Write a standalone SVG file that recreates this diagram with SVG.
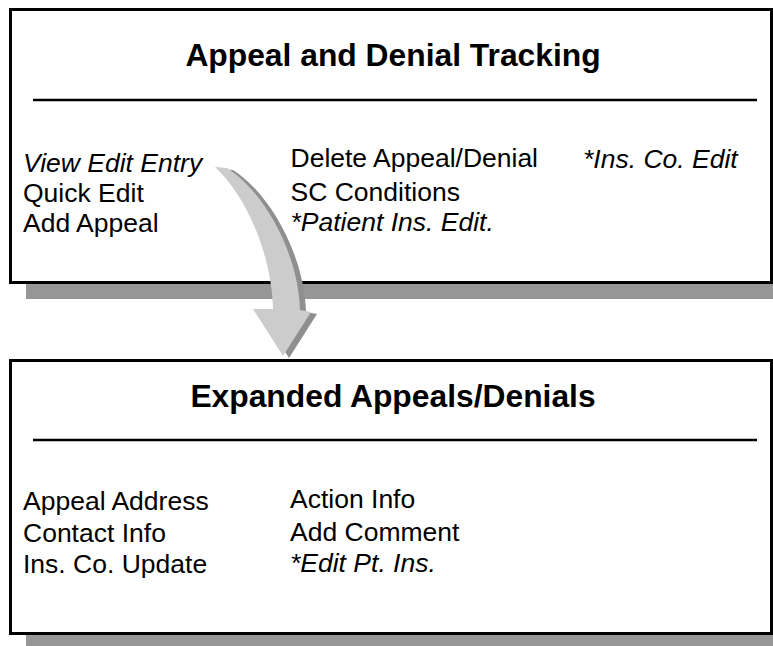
<svg xmlns="http://www.w3.org/2000/svg" width="773" height="646" viewBox="0 0 773 646">
<style>
.box{fill:#ffffff;stroke:#000000;stroke-width:3}
.shadow{fill:#969696}
.rule{stroke:#000000;stroke-width:2.5}
.title{font-family:"Liberation Sans",Arial,sans-serif;font-weight:bold;font-size:31.8px;fill:#000;text-anchor:middle}
.item{font-family:"Liberation Sans",Arial,sans-serif;font-size:26.5px;fill:#000}
.it{font-style:italic}
</style>
<rect width="773" height="646" fill="#ffffff"/>
<g id="node-tracking">
<rect class="shadow" x="26" y="25" width="770" height="274"/>
<rect class="box" x="10.5" y="9.5" width="761" height="273"/>
<line class="rule" x1="33" y1="100" x2="757" y2="100"/>
<text class="title" x="393" y="66">Appeal and Denial Tracking</text>
<text class="item it" x="23" y="172">View Edit Entry</text>
<text class="item" x="23" y="202">Quick Edit</text>
<text class="item" x="23" y="232">Add Appeal</text>
<text class="item" x="290.5" y="167">Delete Appeal/Denial</text>
<text class="item" x="290.5" y="201">SC Conditions</text>
<text class="item it" x="290.5" y="231">*Patient Ins. Edit.</text>
<text class="item it" x="583" y="168">*Ins. Co. Edit</text>
</g>
<g id="node-expanded">
<rect class="shadow" x="26" y="376" width="770" height="280"/>
<rect class="box" x="10.5" y="360.5" width="761" height="273"/>
<line class="rule" x1="33" y1="440" x2="757" y2="440"/>
<text class="title" x="393" y="407">Expanded Appeals/Denials</text>
<text class="item" x="23" y="510">Appeal Address</text>
<text class="item" x="23" y="542">Contact Info</text>
<text class="item" x="23" y="573">Ins. Co. Update</text>
<text class="item" x="290" y="508">Action Info</text>
<text class="item" x="290" y="541">Add Comment</text>
<text class="item it" x="290" y="572">*Edit Pt. Ins.</text>
</g>
<g id="connectors">
<path fill="#8f8f8f" transform="translate(6,2)" d="M215,167 L227,168 C262,190 298,250 300,310 L311,312 L283,356 L253,309 L273,309 C272,260 250,200 215,167 Z"/>
<path fill="#cccccc" d="M215,167 L227,168 C262,190 298,250 300,310 L311,312 L283,356 L253,309 L273,309 C272,260 250,200 215,167 Z"/>
</g>
</svg>
